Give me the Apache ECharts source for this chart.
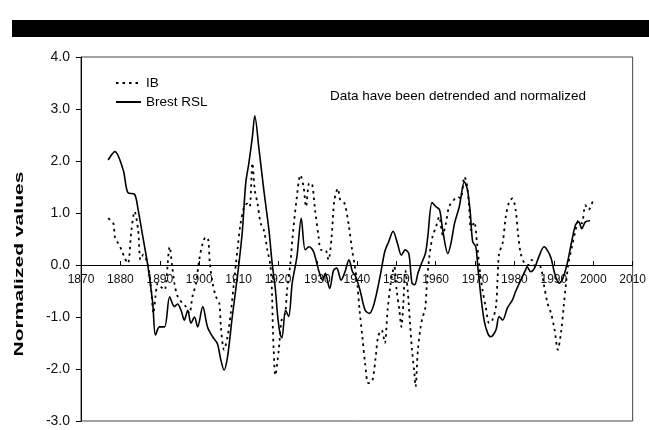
<!DOCTYPE html>
<html>
<head>
<meta charset="utf-8">
<script src="https://cdn.jsdelivr.net/npm/echarts@6/dist/echarts.min.js"></script>
<style>
html,body{margin:0;padding:0;background:#fff;}
#chart{width:649px;height:430px;}
</style>
</head>
<body>
<div id="chart"></div>
<script>
// ---- Data ----
var xTicks = [1870,1880,1890,1900,1910,1920,1930,1940,1950,1960,1970,1980,1990,2000,2010];
var yTicks = [-3,-2,-1,0,1,2,3,4];

var rslYears = [1876.9,1878.6,1880.7,1881.9,1883.6,1884.5,1885.7,1887.0,1888.2,1888.9,1889.9,1891.2,1892.5,1893.7,1894.5,1895.4,1896.2,1897.1,1897.9,1898.8,1899.6,1900.9,1902.1,1903.4,1904.6,1905.5,1906.3,1907.2,1908.4,1909.7,1910.9,1911.8,1912.6,1913.5,1914.1,1915.2,1916.4,1917.7,1918.5,1919.3,1920.0,1920.6,1921.0,1921.9,1922.7,1923.6,1924.8,1925.9,1926.9,1927.9,1929.0,1930.3,1931.3,1932.0,1933.1,1934.1,1934.9,1936.0,1937.0,1938.0,1938.9,1939.7,1940.8,1942.1,1943.2,1944.4,1945.9,1947.1,1948.1,1949.2,1950.3,1951.3,1952.3,1953.2,1954.0,1954.7,1955.5,1956.4,1957.4,1958.0,1959.1,1960.1,1961.0,1961.8,1963.1,1963.9,1964.8,1966.0,1967.3,1968.1,1968.8,1969.4,1970.2,1970.7,1971.5,1972.3,1973.2,1974.0,1975.3,1976.1,1977.0,1978.2,1979.5,1980.3,1981.6,1982.8,1983.2,1984.1,1985.1,1986.2,1987.5,1988.3,1989.3,1990.2,1991.3,1992.1,1993.4,1994.6,1995.5,1996.3,1997.1,1998.0,1999.2];
var rslValues = [2.02,2.18,1.83,1.39,1.36,1.06,0.54,-0.03,-0.73,-1.35,-1.19,-1.19,-0.61,-0.80,-0.75,-0.87,-1.06,-0.87,-1.12,-1.00,-1.19,-0.80,-1.19,-1.38,-1.51,-1.83,-2.02,-1.76,-0.99,-0.22,0.61,1.57,1.96,2.47,2.87,2.21,1.44,0.67,0.04,-0.45,-1.05,-1.35,-1.40,-0.87,-0.99,-0.35,0.16,0.90,0.29,0.35,0.26,-0.10,-0.29,-0.16,-0.45,-0.10,-0.06,-0.29,-0.13,0.10,-0.13,-0.22,-0.48,-0.87,-0.93,-0.74,-0.22,0.26,0.45,0.65,0.42,0.19,0.29,0.22,-0.35,-0.38,-0.16,0.03,0.22,0.54,1.20,1.12,1.06,0.67,0.22,0.42,0.80,1.12,1.60,1.44,1.00,0.45,0.35,-0.03,-0.61,-1.06,-1.31,-1.38,-1.25,-0.99,-1.06,-0.83,-0.67,-0.51,-0.29,-0.10,-0.03,-0.13,-0.06,0.16,0.35,0.29,0.13,-0.16,-0.35,-0.29,0.03,0.48,0.77,0.83,0.70,0.83,0.85];

var ibYears = [1876.9,1878.2,1878.6,1879.4,1880.3,1881.1,1881.9,1882.8,1883.6,1884.5,1885.1,1885.8,1887.0,1887.8,1888.4,1888.9,1889.5,1890.3,1891.2,1892.5,1893.1,1893.7,1894.5,1895.8,1896.6,1897.5,1898.3,1899.2,1900.0,1900.9,1901.7,1902.3,1902.7,1903.4,1904.2,1905.1,1905.5,1906.3,1907.2,1908.0,1908.8,1909.7,1910.5,1911.4,1912.2,1912.8,1913.5,1914.1,1914.8,1915.6,1916.4,1917.3,1918.1,1918.5,1918.7,1918.9,1919.3,1920.2,1920.9,1921.8,1922.3,1923.1,1923.7,1924.6,1925.7,1926.5,1927.1,1927.9,1928.5,1929.4,1930.3,1930.9,1932.0,1932.8,1933.6,1934.3,1935.2,1935.8,1936.9,1938.0,1938.8,1939.5,1940.1,1940.7,1941.4,1942.1,1942.9,1943.9,1944.8,1945.4,1946.3,1947.1,1947.8,1948.6,1949.5,1950.1,1950.8,1951.3,1951.8,1952.3,1952.9,1953.5,1954.0,1954.6,1954.9,1955.5,1956.2,1956.7,1957.3,1957.8,1958.4,1959.2,1960.1,1960.9,1961.8,1962.6,1963.4,1964.6,1965.6,1966.4,1967.3,1967.9,1968.5,1969.0,1969.8,1970.5,1971.1,1971.9,1972.7,1973.6,1974.4,1975.3,1975.7,1976.1,1977.0,1977.8,1978.7,1979.5,1980.3,1980.9,1981.6,1982.6,1983.6,1984.4,1985.3,1986.5,1987.4,1988.4,1989.3,1990.2,1991.0,1991.8,1992.5,1993.1,1993.7,1994.6,1995.5,1996.3,1997.1,1998.0,1998.8,2000.1];
var ibValues = [0.90,0.80,0.54,0.42,0.29,0.13,0.03,0.67,1.03,0.67,0.10,0.20,0.00,-0.48,-0.93,-0.60,-0.35,-0.42,-0.48,0.35,0.00,-0.35,-0.60,-0.74,-0.80,-0.93,-0.60,-0.35,0.10,0.42,0.54,0.48,0.03,-0.35,-0.60,-0.74,-1.19,-1.63,-1.38,-0.93,-0.35,0.29,0.80,1.12,1.18,1.12,1.96,1.44,1.18,0.80,0.67,0.29,-0.03,-0.61,-1.25,-1.63,-2.12,-1.63,-1.06,-0.93,-0.48,0.00,0.54,1.19,1.73,1.50,1.12,1.57,1.57,1.06,0.54,0.29,0.29,0.10,0.54,1.25,1.47,1.25,1.18,0.74,0.29,-0.03,-0.35,-0.87,-1.38,-1.89,-2.27,-2.24,-1.76,-1.38,-1.25,-1.50,-0.87,-0.35,-0.03,-0.48,-0.87,-1.19,-0.74,-0.10,-0.48,-1.12,-1.63,-2.08,-2.34,-1.63,-1.19,-1.00,-0.87,-0.35,0.16,0.54,0.74,0.93,0.58,0.80,1.12,1.25,1.31,1.28,1.70,1.57,1.12,0.67,0.83,0.42,-0.03,-0.48,-0.80,-1.12,-1.06,-0.80,-0.29,0.22,0.42,0.93,1.22,1.28,1.06,0.61,0.22,0.03,0.00,0.10,-0.03,-0.03,-0.35,-0.74,-0.93,-1.25,-1.63,-1.31,-0.80,-0.35,0.03,0.35,0.67,0.86,0.80,1.15,1.06,1.28];

var seriesNames = ['IB', 'Brest RSL'];
var annotationText = 'Data have been detrended and normalized';
var yTitle = 'Normalized values';

function pairs(xs, ys) { return xs.map(function (x, i) { return [x, ys[i]]; }); }

var FONT = "'Liberation Sans', Arial, sans-serif";
var GRID_TOP = 57, GRID_BOTTOM = 9, H = 430;
var yMin = yTicks[0], yMax = yTicks[yTicks.length - 1];
// distance from the bottom of the plot to the zero line, used to lift the x axis onto y = 0
var plotH = H - GRID_TOP - GRID_BOTTOM;
var zeroLift = plotH * (0 - yMin) / (yMax - yMin);

var chart = echarts.init(document.getElementById('chart'), null, {renderer: 'canvas'});
chart.setOption({
  animation: false,
  backgroundColor: '#ffffff',
  grid: {left: 81, right: 12, top: GRID_TOP, bottom: GRID_BOTTOM, show: true, borderColor: '#444', borderWidth: 1, backgroundColor: 'transparent'},
  xAxis: {
    type: 'value', min: xTicks[0], max: xTicks[xTicks.length - 1], interval: 10,
    position: 'bottom', offset: -zeroLift,
    axisLine: {onZero: false, lineStyle: {color: '#000', width: 1}},
    axisTick: {show: true, inside: true, length: 4, lineStyle: {color: '#000'}},
    axisLabel: {fontFamily: FONT, fontSize: 12, color: '#111', margin: 9, formatter: function (v) { return String(v); }},
    splitLine: {show: false}
  },
  yAxis: {
    type: 'value', min: yMin, max: yMax, interval: 1,
    axisLine: {show: true, onZero: false, lineStyle: {color: '#000', width: 1}},
    axisTick: {show: true, inside: false, length: 5, lineStyle: {color: '#000'}},
    axisLabel: {fontFamily: FONT, fontSize: 14, color: '#111', margin: 11, formatter: function (v) { return v.toFixed(1); }},
    splitLine: {show: false}
  },
  legend: {
    data: seriesNames, orient: 'vertical', left: 110, top: 71,
    itemWidth: 25, itemHeight: 14, itemGap: 5,
    itemStyle: {opacity: 0, borderWidth: 0},
    textStyle: {fontFamily: FONT, fontSize: 13.5, color: '#000', lineHeight: 14}
  },
  graphic: [
    {type: 'rect', left: 12, top: 20, shape: {width: 637, height: 17}, style: {fill: '#000'}, silent: true},
    {type: 'text', x: 330, y: 96, style: {text: annotationText, font: '13.5px ' + FONT, fill: '#000', verticalAlign: 'middle', align: 'left'}},
    {type: 'text', x: 19, y: 264, rotation: Math.PI / 2, scaleX: 1.62, scaleY: 1,
     style: {text: yTitle, font: 'bold 13px ' + FONT, fill: '#000', align: 'center', verticalAlign: 'middle'}}
  ],
  series: [
    {name: seriesNames[0], type: 'line', data: pairs(ibYears, ibValues), symbol: 'none', smooth: 0.3,
     lineStyle: {color: '#000', width: 1.8, type: [2.5, 4]}, itemStyle: {color: '#000'}},
    {name: seriesNames[1], type: 'line', data: pairs(rslYears, rslValues), symbol: 'none', smooth: 0.3,
     lineStyle: {color: '#000', width: 1.6, type: 'solid'}, itemStyle: {color: '#000'}}
  ]
});
</script>
</body>
</html>
